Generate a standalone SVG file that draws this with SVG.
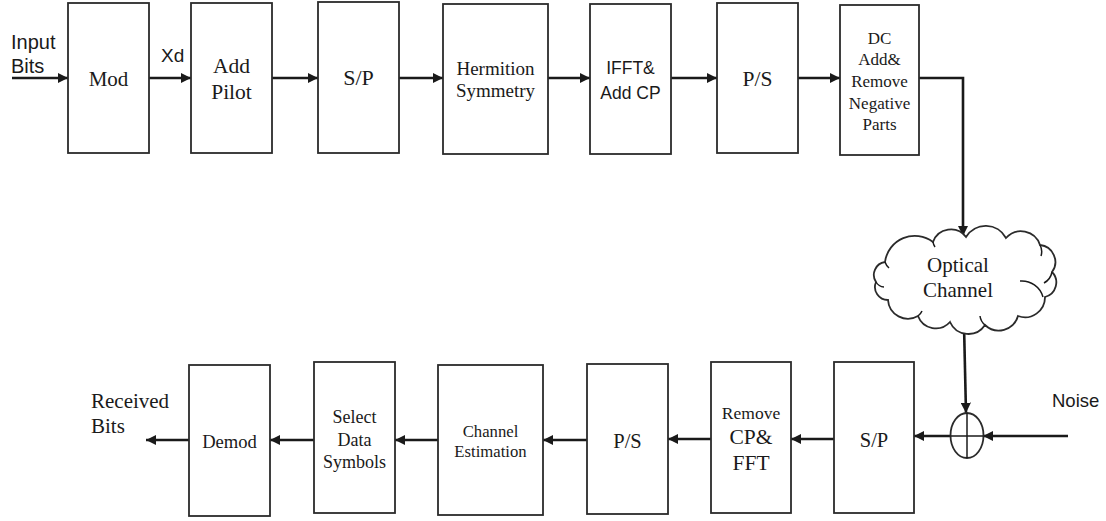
<svg xmlns="http://www.w3.org/2000/svg" width="1106" height="521" viewBox="0 0 1106 521">
<style>
.box{fill:#fff;stroke:#2b2b2b;stroke-width:1.8}
.ln{fill:none;stroke:#1a1a1a;stroke-width:2.6}
.thin{fill:none;stroke:#1a1a1a;stroke-width:1.5}
.serif{font-family:'Liberation Serif','Times New Roman','DejaVu Serif',serif;fill:#1a1a1a;text-anchor:middle}
.sans{font-family:'Liberation Sans',Arial,sans-serif;fill:#1a1a1a}
</style>
<defs>
<marker id="ah" viewBox="0 0 10 10" refX="10" refY="5" markerWidth="4" markerHeight="4" markerUnits="strokeWidth" orient="auto">
<path d="M0,0 L10,5 L0,10 Z" fill="#1a1a1a"/>
</marker>
</defs>
<rect width="1106" height="521" fill="#fff"/>
<g id="connectors">
<line class="ln" x1="12" y1="78" x2="68" y2="78" marker-end="url(#ah)"/>
<line class="ln" x1="149" y1="78" x2="191" y2="78" marker-end="url(#ah)"/>
<line class="ln" x1="272" y1="78" x2="318" y2="78" marker-end="url(#ah)"/>
<line class="ln" x1="399" y1="78" x2="443" y2="78" marker-end="url(#ah)"/>
<line class="ln" x1="548" y1="78" x2="590" y2="78" marker-end="url(#ah)"/>
<line class="ln" x1="671" y1="78" x2="717" y2="78" marker-end="url(#ah)"/>
<line class="ln" x1="798" y1="78" x2="840" y2="78" marker-end="url(#ah)"/>
<polyline class="ln" points="919,78 963,78 963,236" marker-end="url(#ah)"/>
<line class="ln" x1="964" y1="325" x2="966" y2="413" marker-end="url(#ah)"/>
<line class="ln" x1="1068" y1="436" x2="983" y2="436" marker-end="url(#ah)"/>
<line class="ln" x1="950" y1="436" x2="914" y2="436" marker-end="url(#ah)"/>
<line class="ln" x1="834" y1="439" x2="791" y2="439" marker-end="url(#ah)"/>
<line class="ln" x1="711" y1="439" x2="668" y2="439" marker-end="url(#ah)"/>
<line class="ln" x1="587" y1="440" x2="543" y2="440" marker-end="url(#ah)"/>
<line class="ln" x1="438" y1="440" x2="395" y2="440" marker-end="url(#ah)"/>
<line class="ln" x1="314" y1="440" x2="270" y2="440" marker-end="url(#ah)"/>
<line class="ln" x1="189" y1="440" x2="146" y2="440" marker-end="url(#ah)"/>
</g>
<g id="labels">
<text class="sans" x="11" y="49" font-size="20">Input</text>
<text class="sans" x="11" y="73" font-size="20">Bits</text>
<text class="sans" x="161" y="62" font-size="19">Xd</text>
<text class="sans" x="1052" y="407" font-size="18.5">Noise</text>
<text class="serif" x="91" y="408" font-size="21" text-anchor="start" style="text-anchor:start">Received</text>
<text class="serif" x="91" y="433" font-size="21" text-anchor="start" style="text-anchor:start">Bits</text>
</g>
<g id="mod"><rect class="box" x="68" y="3" width="81" height="150"/><text class="serif" x="108.5" y="86" font-size="21">Mod</text></g>
<g id="add-pilot"><rect class="box" x="191" y="3" width="81" height="150"/><text class="serif" x="231.5" y="73" font-size="21.5">Add</text><text class="serif" x="231.5" y="99" font-size="21.5">Pilot</text></g>
<g id="sp-top"><rect class="box" x="318" y="2" width="81" height="151"/><text class="serif" x="358.5" y="85" font-size="22">S/P</text></g>
<g id="hermition"><rect class="box" x="443" y="4" width="105" height="150"/><text class="serif" x="495.5" y="75" font-size="19">Hermition</text><text class="serif" x="495.5" y="97" font-size="19">Symmetry</text></g>
<g id="ifft"><rect class="box" x="590" y="4" width="81" height="150"/><text class="sans" x="630.5" y="74" font-size="17.5" text-anchor="middle">IFFT&amp;</text><text class="sans" x="630.5" y="99" font-size="17.5" text-anchor="middle">Add CP</text></g>
<g id="ps-top"><rect class="box" x="717" y="3" width="81" height="150"/><text class="serif" x="757.5" y="86" font-size="21.5">P/S</text></g>
<g id="dc"><rect class="box" x="840" y="5" width="79" height="150"/>
<text class="serif" x="879.5" y="44" font-size="17">DC</text>
<text class="serif" x="879.5" y="65" font-size="17">Add&amp;</text>
<text class="serif" x="879.5" y="87" font-size="17">Remove</text>
<text class="serif" x="879.5" y="109" font-size="17">Negative</text>
<text class="serif" x="879.5" y="130" font-size="17">Parts</text></g>
<g id="optical-channel">
<path class="box" d="M885,262 A30,30 0 0 1 933,242 A19,19 0 0 1 966,237 A23,23 0 0 1 1006,238 A20,20 0 0 1 1040,245 A17,17 0 0 1 1052,272 A15,15 0 0 1 1045,297 A20,20 0 0 1 1018,316 A20,20 0 0 1 985,325 A20,20 0 0 1 950,322 A19,19 0 0 1 918,316 A20,20 0 0 1 888,300 A13,13 0 0 1 876,282 A13,13 0 0 1 885,262 Z"/>
<path class="thin" d="M885,262 A14,14 0 0 0 889,268 M933,242 A12,12 0 0 0 935,247 M1040,245 A14,14 0 0 1 1041,256 M1052,272 A16,16 0 0 1 1044,283 M1043,297 A22,22 0 0 0 1020,281 M985,325 A14,14 0 0 1 980,316 M918,316 A12,12 0 0 0 922,311 M876,282 A10,10 0 0 0 884,287"/>
<text class="serif" x="958" y="272" font-size="21">Optical</text>
<text class="serif" x="958" y="297" font-size="21">Channel</text>
</g>
<g id="adder"><ellipse class="box" cx="967" cy="435.5" rx="16.5" ry="22.5"/><line class="thin" x1="967" y1="413" x2="967" y2="458"/><line class="thin" x1="950.5" y1="436" x2="983.5" y2="436"/></g>
<g id="sp-bottom"><rect class="box" x="834" y="362" width="80" height="151"/><text class="serif" x="874" y="447" font-size="20.5">S/P</text></g>
<g id="remove-cp"><rect class="box" x="711" y="362" width="80" height="151"/><text class="serif" x="751" y="419" font-size="17.5">Remove</text><text class="serif" x="751" y="444" font-size="21.5">CP&amp;</text><text class="serif" x="751" y="470" font-size="21.5">FFT</text></g>
<g id="ps-bottom"><rect class="box" x="587" y="364" width="81" height="150"/><text class="serif" x="627.5" y="448" font-size="20.5">P/S</text></g>
<g id="channel-estimation"><rect class="box" x="438" y="365" width="105" height="150"/><text class="serif" x="490.5" y="437" font-size="16.7">Channel</text><text class="serif" x="490.5" y="457" font-size="16.7">Estimation</text></g>
<g id="select-data"><rect class="box" x="314" y="362" width="81" height="151"/><text class="serif" x="354.5" y="423" font-size="18">Select</text><text class="serif" x="354.5" y="446" font-size="18">Data</text><text class="serif" x="354.5" y="468" font-size="18">Symbols</text></g>
<g id="demod"><rect class="box" x="189" y="365" width="81" height="151"/><text class="serif" x="229.5" y="448" font-size="18.6">Demod</text></g>
</svg>
